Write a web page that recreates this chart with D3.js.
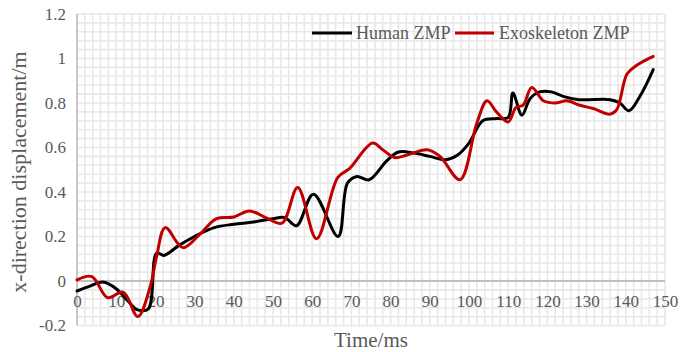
<!DOCTYPE html>
<html>
<head>
<meta charset="utf-8">
<script src="https://cdn.jsdelivr.net/npm/d3@7"></script>
<style>
  html, body { margin: 0; padding: 0; background: #fff; }
  svg { display: block; font-family: "Liberation Serif", "Times New Roman", serif; }
</style>
</head>
<body>
<svg id="chart" width="681" height="352"></svg>
<script>
// Sampled ZMP traces: [time in ms, displacement in m]
const humanZMP = [
  [0,-0.045],[3,-0.025],[6.6,-0.005],[10,-0.035],[13,-0.09],[15.5,-0.13],[18.2,-0.125],
  [20.3,0.125],[22.2,0.115],[26,0.16],[30,0.2],[35,0.24],[40,0.255],[45,0.265],[50,0.28],
  [53,0.285],[56,0.248],[60.3,0.39],[66.6,0.2],[69,0.44],[71.4,0.47],[74.5,0.455],[79,0.54],
  [82,0.58],[86,0.575],[90,0.56],[94,0.545],[97,0.565],[100,0.62],[103.5,0.72],[107,0.73],
  [110,0.735],[111.2,0.845],[113.5,0.745],[115.6,0.82],[118,0.85],[121,0.85],[124,0.83],
  [128,0.815],[136,0.815],[138.5,0.8],[140.8,0.765],[143.6,0.83],[147,0.95]
];
const exoZMP = [
  [0,0.005],[3.8,0.02],[7.8,-0.075],[11.8,-0.05],[15.5,-0.16],[18.6,-0.03],[20.3,0.11],
  [22.5,0.24],[27,0.15],[31.3,0.21],[35.6,0.28],[40,0.288],[44,0.315],[48.4,0.283],
  [52.3,0.26],[56.3,0.42],[61.1,0.19],[66.5,0.465],[69.5,0.505],[75.4,0.62],[78,0.59],
  [81,0.555],[84,0.565],[89.3,0.59],[92.6,0.56],[97.7,0.455],[102,0.71],[104.6,0.81],
  [107,0.76],[110,0.715],[112,0.78],[113.8,0.79],[116,0.87],[119,0.81],[122,0.8],
  [125,0.81],[128.3,0.79],[131.7,0.775],[136,0.75],[137.7,0.77],[140.3,0.93],[142.8,0.97],
  [147,1.01]
];
const xTicks = [0,10,20,30,40,50,60,70,80,90,100,110,120,130,140,150];
const yTicks = [-0.2,0,0.2,0.4,0.6,0.8,1,1.2];
const seriesNames = ["Human ZMP","Exoskeleton ZMP"];
const seriesColors = ["#000000","#c00000"];

const svg = d3.select("#chart");
const plot = { left: 77, right: 665, top: 14, bottom: 325.5 };

const x = d3.scaleLinear().domain([0,150]).range([plot.left, plot.right]);
const y = d3.scaleLinear().domain([-0.2,1.2]).range([plot.bottom, plot.top]);

// Fine grid: every 2 ms and every 0.04 m
const grid = svg.append("g").attr("stroke", "#e8e8e8").attr("stroke-width", 1.6);
grid.selectAll("line.v").data(d3.range(0, 151, 2)).join("line")
  .attr("x1", d => x(d)).attr("x2", d => x(d))
  .attr("y1", plot.top).attr("y2", plot.bottom);
grid.selectAll("line.h").data(d3.range(0, 36).map(i => -0.2 + i * 0.04)).join("line")
  .attr("x1", plot.left).attr("x2", plot.right)
  .attr("y1", d => y(d)).attr("y2", d => y(d));

// Vertical axis line and zero baseline
svg.append("line")
  .attr("x1", x(0)).attr("x2", x(0)).attr("y1", plot.top).attr("y2", plot.bottom)
  .attr("stroke", "#bfbfbf").attr("stroke-width", 1.6);
svg.append("line")
  .attr("x1", plot.left).attr("x2", plot.right).attr("y1", y(0)).attr("y2", y(0))
  .attr("stroke", "#bfbfbf").attr("stroke-width", 2);

// Y tick labels
const yAxis = d3.axisLeft(y).tickValues(yTicks).tickSize(0).tickPadding(11)
  .tickFormat(d => d === 0 ? "0" : String(+d.toFixed(1)));
const gy = svg.append("g").attr("transform", `translate(${plot.left},0)`).call(yAxis);
gy.select(".domain").remove();
gy.selectAll("text").attr("fill", "#595959").attr("font-size", 17)
  .attr("font-family", "Liberation Serif, serif");

// X tick labels sit under the zero line
const xAxis = d3.axisBottom(x).tickValues(xTicks).tickSize(0).tickPadding(14)
  .tickFormat(d3.format("d"));
const gx = svg.append("g").attr("transform", `translate(0,${y(0)})`).call(xAxis);
gx.select(".domain").remove();
gx.selectAll("text").attr("fill", "#595959").attr("font-size", 17)
  .attr("font-family", "Liberation Serif, serif");

// Series lines
const line = d3.line().x(d => x(d[0])).y(d => y(d[1])).curve(d3.curveCatmullRom.alpha(0.5));
[humanZMP, exoZMP].forEach((data, i) => {
  svg.append("path").datum(data)
    .attr("fill", "none").attr("stroke", seriesColors[i])
    .attr("stroke-width", 3).attr("stroke-linejoin", "round").attr("stroke-linecap", "round")
    .attr("d", line);
});

// Axis titles
svg.append("text")
  .attr("transform", "translate(26,172) rotate(-90)")
  .attr("text-anchor", "middle").attr("fill", "#595959").attr("font-size", 22)
  .text("x-direction displacement/m");
svg.append("text")
  .attr("x", 371).attr("y", 347).attr("text-anchor", "middle")
  .attr("fill", "#595959").attr("font-size", 21).text("Time/ms");

// Legend
const legend = svg.append("g");
const legendItems = [{ x0: 312, x1: 352, tx: 356 }, { x0: 455, x1: 494, tx: 499 }];
legendItems.forEach((it, i) => {
  legend.append("line")
    .attr("x1", it.x0).attr("x2", it.x1).attr("y1", 33).attr("y2", 33)
    .attr("stroke", seriesColors[i]).attr("stroke-width", 3);
  legend.append("text")
    .attr("x", it.tx).attr("y", 39).attr("fill", "#595959").attr("font-size", 18)
    .text(seriesNames[i]);
});
</script>
</body>
</html>
